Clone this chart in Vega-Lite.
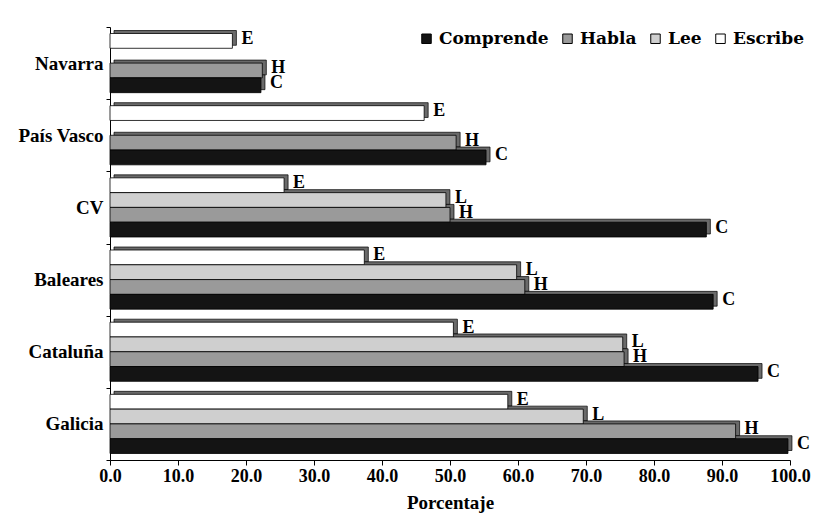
{
  "$schema": "https://vega.github.io/schema/vega-lite/v6.json",
  "width": 680,
  "height": 433,
  "autosize": {"type": "none"},
  "padding": {"left": 110, "top": 27, "right": 28, "bottom": 63},
  "background": "white",
  "config": {"view": {"stroke": null}},
  "data": {
    "values": [
      {"region": "Navarra", "serie": "Escribe", "letra": "E", "valor": 18.0},
      {"region": "Navarra", "serie": "Habla", "letra": "H", "valor": 22.4},
      {"region": "Navarra", "serie": "Comprende", "letra": "C", "valor": 22.2},
      {"region": "País Vasco", "serie": "Escribe", "letra": "E", "valor": 46.2},
      {"region": "País Vasco", "serie": "Habla", "letra": "H", "valor": 50.9},
      {"region": "País Vasco", "serie": "Comprende", "letra": "C", "valor": 55.3},
      {"region": "CV", "serie": "Escribe", "letra": "E", "valor": 25.6},
      {"region": "CV", "serie": "Lee", "letra": "L", "valor": 49.4},
      {"region": "CV", "serie": "Habla", "letra": "H", "valor": 50.0},
      {"region": "CV", "serie": "Comprende", "letra": "C", "valor": 87.7},
      {"region": "Baleares", "serie": "Escribe", "letra": "E", "valor": 37.4},
      {"region": "Baleares", "serie": "Lee", "letra": "L", "valor": 59.8},
      {"region": "Baleares", "serie": "Habla", "letra": "H", "valor": 61.0},
      {"region": "Baleares", "serie": "Comprende", "letra": "C", "valor": 88.7},
      {"region": "Cataluña", "serie": "Escribe", "letra": "E", "valor": 50.5},
      {"region": "Cataluña", "serie": "Lee", "letra": "L", "valor": 75.4},
      {"region": "Cataluña", "serie": "Habla", "letra": "H", "valor": 75.6},
      {"region": "Cataluña", "serie": "Comprende", "letra": "C", "valor": 95.3},
      {"region": "Galicia", "serie": "Escribe", "letra": "E", "valor": 58.5},
      {"region": "Galicia", "serie": "Lee", "letra": "L", "valor": 69.6},
      {"region": "Galicia", "serie": "Habla", "letra": "H", "valor": 92.0},
      {"region": "Galicia", "serie": "Comprende", "letra": "C", "valor": 99.7}
    ]
  },
  "encoding": {
    "y": {
      "field": "region",
      "type": "nominal",
      "sort": ["Navarra", "País Vasco", "CV", "Baleares", "Cataluña", "Galicia"],
      "scale": {"paddingInner": 0, "paddingOuter": 0},
      "axis": {
        "title": null,
        "labelFont": "Liberation Serif, Times New Roman, serif",
        "labelFontSize": 19,
        "labelFontWeight": "bold",
        "labelColor": "black",
        "labelPadding": 3,
        "ticks": true,
        "tickBand": "extent",
        "tickSize": 4,
        "tickColor": "black",
        "domainColor": "black",
        "domainWidth": 1
      }
    },
    "x": {
      "field": "valor",
      "type": "quantitative",
      "scale": {"domain": [0, 100], "nice": false},
      "axis": {
        "title": "Porcentaje",
        "values": [0, 10, 20, 30, 40, 50, 60, 70, 80, 90, 100],
        "format": ".1f",
        "grid": false,
        "labelFont": "Liberation Serif, Times New Roman, serif",
        "labelFontSize": 18,
        "labelFontWeight": "bold",
        "labelColor": "black",
        "labelFlush": false,
        "labelPadding": 2,
        "tickColor": "black",
        "tickSize": 5,
        "domainColor": "black",
        "titleFont": "Liberation Serif, Times New Roman, serif",
        "titleFontSize": 19,
        "titleFontWeight": "bold",
        "titleColor": "black",
        "titlePadding": 8
      }
    }
  },
  "layer": [
    {
      "mark": {"type": "bar", "xOffset": 4, "x2Offset": 4, "color": "#6a6a6a", "stroke": "black", "strokeWidth": 0.7},
      "encoding": {
        "yOffset": {
          "field": "serie",
          "type": "nominal",
          "scale": {"domain": ["Escribe", "Lee", "Habla", "Comprende"], "paddingOuter": 0.44, "paddingInner": 0, "range": [-3, 69.17]}
        }
      }
    },
    {
      "mark": {"type": "bar", "stroke": "black", "strokeWidth": 0.8},
      "encoding": {
        "yOffset": {
          "field": "serie",
          "type": "nominal",
          "scale": {"domain": ["Escribe", "Lee", "Habla", "Comprende"], "paddingOuter": 0.44, "paddingInner": 0}
        },
        "color": {
          "field": "serie",
          "type": "nominal",
          "scale": {"domain": ["Comprende", "Habla", "Lee", "Escribe"], "range": ["#141414", "#9a9a9a", "#cfcfcf", "#ffffff"]},
          "legend": {
            "title": null,
            "orient": "none",
            "direction": "horizontal",
            "legendX": 308,
            "legendY": 3,
            "symbolType": "square",
            "symbolSize": 90,
            "symbolStrokeColor": "black",
            "symbolStrokeWidth": 1,
            "labelFont": "DejaVu Serif",
            "labelFontSize": 17,
            "labelFontWeight": "bold",
            "labelColor": "black",
            "labelOffset": 4,
            "columnPadding": 10
          }
        }
      }
    },
    {
      "mark": {"type": "text", "align": "left", "baseline": "middle", "dx": 9, "dy": -2, "font": "Liberation Serif, Times New Roman, serif", "fontSize": 18, "fontWeight": "bold", "color": "black"},
      "encoding": {
        "text": {"field": "letra"},
        "yOffset": {
          "field": "serie",
          "type": "nominal",
          "scale": {"type": "point", "domain": ["Escribe", "Lee", "Habla", "Comprende"], "padding": 0.94}
        }
      }
    }
  ],
  "resolve": {"scale": {"yOffset": "independent"}}
}
